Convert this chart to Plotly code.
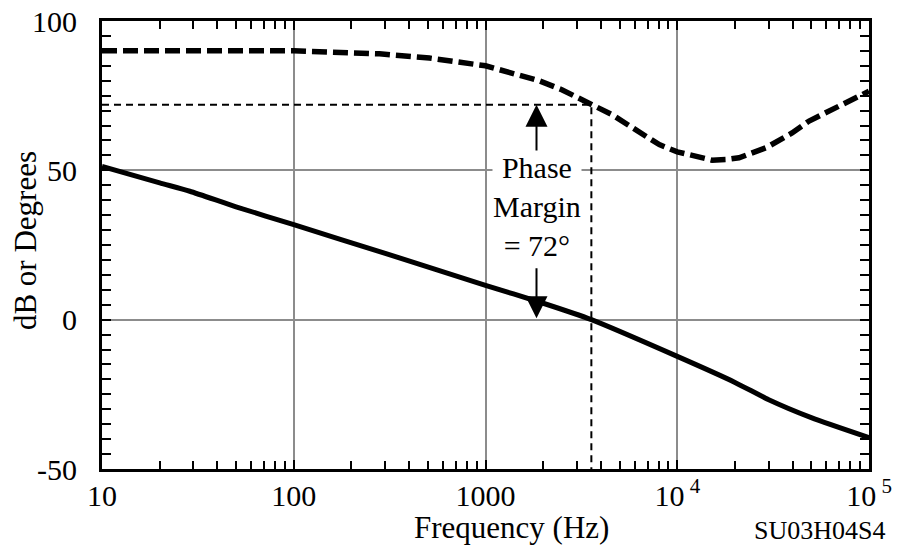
import math
import plotly.graph_objects as go

# ---- data ----
gain_freq = [10, 20, 28.7, 50, 100, 300, 1000, 2000, 3565, 10000, 20000, 30000, 50000, 100000]
gain_db = [51.3, 45.8, 43.0, 37.8, 31.8, 22.2, 11.5, 5.5, 0.0, -12.3, -21.0, -26.8, -32.8, -39.5]

phase_freq = [10, 100, 280, 510, 1000, 1900, 2500, 3480, 4580, 6900, 8060, 10000, 12560,
              15200, 18000, 21000, 29100, 39700, 48700, 62600, 76700, 100000]
phase_deg = [90, 90, 89, 87.6, 85, 80, 77, 72.6, 68.6, 61.3, 58.6, 56.2, 54.6,
             53.4, 53.6, 54.2, 57.6, 62.5, 66.5, 70, 73, 76.5]

crossover_freq = 3565
phase_margin = 72

x_tickvals = [10, 100, 1000, 10000, 100000]
x_ticktext = ["10", "100", "1000", "10<sup> 4</sup>", "10<sup> 5</sup>"]
y_tickvals = [-50, 0, 50, 100]
y_ticktext = ["-50", "0", "50", "100"]
x_minor = [m * d for d in [10, 100, 1000, 10000] for m in range(2, 10)]

FONT = "Liberation Serif, Times New Roman, serif"

fig = go.Figure()

# phase-margin guide lines (thin dashed)
fig.add_trace(go.Scatter(
    x=[x_tickvals[0], crossover_freq, crossover_freq],
    y=[phase_margin, phase_margin, y_tickvals[0]],
    mode="lines", line=dict(color="black", width=2, dash="7px,5px"),
    showlegend=False, hoverinfo="skip"))

# phase (thick dashed)
fig.add_trace(go.Scatter(
    x=phase_freq, y=phase_deg, mode="lines",
    line=dict(color="black", width=5.5, dash="15px,6px"),
    showlegend=False, name="Phase"))

# gain (thick solid)
fig.add_trace(go.Scatter(
    x=gain_freq, y=gain_db, mode="lines",
    line=dict(color="black", width=5, shape="spline", smoothing=0.6),
    showlegend=False, name="Gain"))

arrow_lx = math.log10(1845)  # annotations on log axes use log10 units
# up arrow to phase-margin line
fig.add_annotation(x=arrow_lx, y=phase_margin, ax=arrow_lx, ay=54.2,
                   xref="x", yref="y", axref="x", ayref="y",
                   showarrow=True, arrowhead=2, arrowsize=2.2, arrowwidth=2,
                   arrowcolor="black", text="")
# down arrow to 0 dB
fig.add_annotation(x=arrow_lx, y=0.5, ax=arrow_lx, ay=17.7,
                   xref="x", yref="y", axref="x", ayref="y",
                   showarrow=True, arrowhead=2, arrowsize=2.2, arrowwidth=2,
                   arrowcolor="black", text="")

fig.add_annotation(x=arrow_lx, y=37.8, xref="x", yref="y",
                   text="Phase<br>Margin<br>= 72°", showarrow=False,
                   font=dict(family=FONT, size=30, color="black"),
                   bgcolor="white", borderpad=0, align="center")

# axis titles as annotations
fig.add_annotation(x=0.5345, y=-0.131, xref="paper", yref="paper",
                   text="Frequency (Hz)", showarrow=False,
                   xanchor="center", yanchor="middle",
                   font=dict(family=FONT, size=31, color="black"))
fig.add_annotation(x=-0.1004, y=0.511, xref="paper", yref="paper",
                   text="dB or Degrees", showarrow=False, textangle=-90,
                   xanchor="center", yanchor="middle",
                   font=dict(family=FONT, size=31, color="black"))
fig.add_annotation(x=0.936, y=-0.138, xref="paper", yref="paper",
                   text="SU03H04S4", showarrow=False,
                   xanchor="center", yanchor="middle",
                   font=dict(family=FONT, size=26, color="black"))

fig.update_xaxes(
    type="log", range=[1, 5], automargin=False,
    tickmode="array", tickvals=x_tickvals, ticktext=x_ticktext,
    ticks="inside", ticklen=9, tickwidth=2, tickcolor="black",
    showline=True, linecolor="black", linewidth=3, mirror="allticks",
    showgrid=True, gridcolor="#8c8c8c", gridwidth=2,
    zeroline=False, ticklabeloverflow="allow",
    minor=dict(tickmode="array", tickvals=x_minor, ticks="inside", ticklen=8,
               tickwidth=2, tickcolor="black", showgrid=False),
    tickfont=dict(family=FONT, size=30, color="black"),
    ticklabelstandoff=-2,
)
fig.update_yaxes(
    range=[-50, 100], automargin=False,
    tickmode="array", tickvals=y_tickvals, ticktext=y_ticktext,
    ticks="inside", ticklen=9, tickwidth=2, tickcolor="black",
    showline=True, linecolor="black", linewidth=3, mirror="allticks",
    showgrid=True, gridcolor="#8c8c8c", gridwidth=2,
    zeroline=False, ticklabeloverflow="allow",
    minor=dict(dtick=5, ticks="inside", ticklen=9, tickwidth=2,
               tickcolor="black", showgrid=False),
    tickfont=dict(family=FONT, size=30, color="black"),
    ticklabelstandoff=16,
)

# the page body has an 8px margin, so the margins are offset to compensate
fig.update_layout(
    width=904, height=545,
    margin=dict(l=94, r=43, t=13, b=84),
    paper_bgcolor="white", plot_bgcolor="white",
    showlegend=False,
)

fig.write_html("out.html")
